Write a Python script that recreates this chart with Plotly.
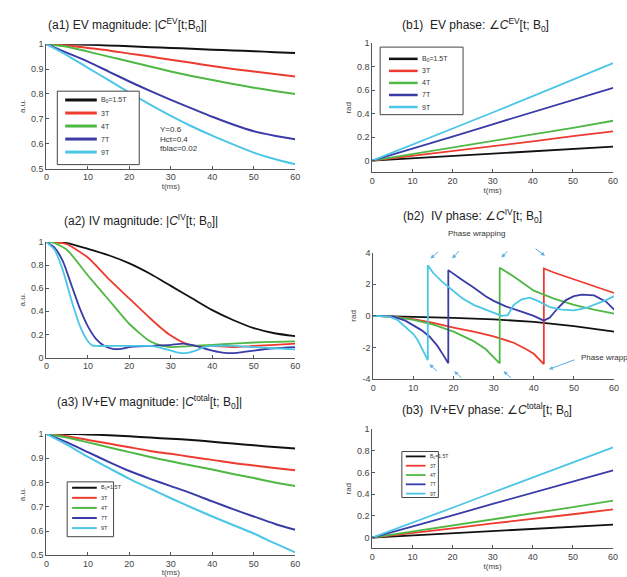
import plotly.graph_objects as go

W, H = 627, 577

names = ["B<sub>0</sub>=1.5T", "3T", "4T", "7T", "9T"]
colors = ["#111111", "#ee3b30", "#4fb844", "#3b3ba8", "#4cc6e6"]

# (a1) EV magnitude
t_a1 = [0, 5, 10, 15, 20, 25, 30, 35, 40, 45, 50, 55, 60]
a1_vals = [
    [1, 1, 0.998, 0.995, 0.992, 0.988, 0.985, 0.982, 0.978, 0.975, 0.972, 0.968, 0.965],
    [1, 0.995, 0.985, 0.975, 0.962, 0.95, 0.937, 0.925, 0.912, 0.9, 0.89, 0.88, 0.87],
    [1, 0.99, 0.97, 0.95, 0.93, 0.91, 0.89, 0.872, 0.856, 0.84, 0.825, 0.812, 0.80],
    [1, 0.965, 0.93, 0.89, 0.85, 0.812, 0.776, 0.742, 0.708, 0.677, 0.65, 0.632, 0.618],
    [1, 0.955, 0.905, 0.855, 0.805, 0.757, 0.712, 0.67, 0.632, 0.597, 0.564, 0.538, 0.517],
]

# (b1) EV phase
t_b1 = [0, 10, 20, 30, 40, 50, 60]
b1_vals = [
    [0, 0.02, 0.04, 0.06, 0.08, 0.10, 0.12],
    [0, 0.04, 0.08, 0.125, 0.165, 0.21, 0.25],
    [0, 0.055, 0.11, 0.17, 0.225, 0.28, 0.34],
    [0, 0.1, 0.205, 0.31, 0.415, 0.52, 0.62],
    [0, 0.135, 0.275, 0.41, 0.55, 0.69, 0.83],
]

# (a2) IV magnitude
t_a2 = [
    [0, 5, 10, 15, 20, 25, 30, 35, 40, 45, 50, 55, 60],
    [0, 3, 5, 10, 15, 20, 25, 28, 30, 33, 36, 40, 45, 50, 55, 60],
    [0, 2, 5, 10, 15, 20, 25, 28, 30, 35, 40, 45, 50, 55, 60],
    [0, 2, 4, 6, 8, 10, 12, 14, 16, 18, 20, 25, 30, 33, 36, 40, 43, 46, 50, 55, 60],
    [0, 2, 4, 6, 8, 10, 11, 12, 15, 20, 25, 28, 30, 32, 34, 36, 38, 40, 45, 50, 55, 60],
]
a2_vals = [
    [1, 0.99, 0.94, 0.885, 0.815, 0.725, 0.62, 0.515, 0.41, 0.325, 0.255, 0.21, 0.185],
    [1, 0.995, 0.98, 0.865, 0.68, 0.51, 0.34, 0.245, 0.19, 0.13, 0.1, 0.1, 0.09, 0.1, 0.11, 0.12],
    [1, 0.99, 0.93, 0.71, 0.5, 0.29, 0.14, 0.1, 0.09, 0.1, 0.11, 0.12, 0.13, 0.135, 0.14],
    [1, 0.95, 0.83, 0.63, 0.43, 0.27, 0.16, 0.1, 0.075, 0.075, 0.09, 0.1, 0.11, 0.12, 0.1, 0.06, 0.04, 0.04, 0.06, 0.08, 0.09],
    [1, 0.93, 0.75, 0.5, 0.28, 0.14, 0.105, 0.1, 0.1, 0.1, 0.1, 0.08, 0.06, 0.04, 0.04, 0.06, 0.09, 0.1, 0.1, 0.09, 0.08, 0.07],
]

# (b2) IV phase (wrapped)
t_b2 = [
    [0, 10, 20, 30, 40, 50, 60],
    [0, 5, 10, 15, 20, 25, 30, 35, 38, 40, 42.5, 42.5, 45, 50, 55, 60],
    [0, 5, 10, 15, 20, 25, 28, 31.5, 31.5, 35, 40, 45, 50, 55, 60],
    [0, 5, 8, 10, 12, 14, 16, 17.5, 18.7, 18.7, 20, 22, 25, 28, 30, 33, 36, 40, 42.5, 44, 46, 48, 50, 52, 55, 58, 60],
    [0, 4, 6, 8, 10, 11, 12, 13, 13.6, 13.6, 15, 17, 18.5, 20, 22, 25, 28, 30, 32, 33.5, 35, 37, 39, 41, 44, 47, 50, 53, 56, 58, 60],
]
b2_vals = [
    [0, -0.05, -0.12, -0.22, -0.38, -0.65, -1.0],
    [0, -0.05, -0.2, -0.45, -0.75, -1.0, -1.3, -1.7, -2.1, -2.4, -3.05, 3.0, 2.75, 2.3, 1.9, 1.45],
    [0, -0.05, -0.25, -0.55, -1.0, -1.6, -2.1, -3.0, 3.05, 2.5, 1.6, 1.1, 0.7, 0.4, 0.15],
    [0, -0.05, -0.3, -0.6, -0.9, -1.3, -1.9, -2.5, -3.0, 2.9, 2.65, 2.3, 1.8, 1.25, 0.95, 0.6, 0.35, 0.0, -0.3, -0.1, 0.5, 1.0, 1.25, 1.35, 1.3, 0.9, 0.4],
    [0, -0.05, -0.25, -0.7, -1.15, -1.5, -2.0, -2.6, -2.8, 3.2, 2.7, 2.2, 1.9, 1.55, 1.15, 0.7, 0.4, 0.2, 0.0, 0.05, 0.7, 1.05, 1.15, 0.95, 0.55, 0.4, 0.35, 0.5, 0.8, 1.0, 1.25],
]

# (a3) IV+EV magnitude
t_a3 = [0, 5, 10, 15, 20, 25, 30, 35, 40, 45, 50, 55, 60]
a3_vals = [
    [1, 1, 0.998, 0.994, 0.99, 0.985, 0.98, 0.975, 0.968, 0.96, 0.953, 0.946, 0.94],
    [1, 0.99, 0.975, 0.96, 0.945, 0.93, 0.918, 0.905, 0.893, 0.88, 0.87, 0.86, 0.85],
    [1, 0.985, 0.965, 0.945, 0.925, 0.905, 0.887, 0.87, 0.853, 0.835, 0.818, 0.8, 0.785],
    [1, 0.965, 0.925, 0.885, 0.847, 0.815, 0.785, 0.755, 0.722, 0.69, 0.66, 0.63, 0.605],
    [1, 0.955, 0.905, 0.86, 0.815, 0.775, 0.735, 0.697, 0.66, 0.625, 0.59, 0.55, 0.512],
]

# (b3) IV+EV phase
t_b3 = [0, 10, 20, 30, 40, 50, 60]
b3_vals = [
    [0, 0.02, 0.04, 0.06, 0.08, 0.10, 0.12],
    [0, 0.04, 0.085, 0.13, 0.17, 0.215, 0.26],
    [0, 0.055, 0.11, 0.17, 0.225, 0.28, 0.34],
    [0, 0.1, 0.205, 0.31, 0.415, 0.52, 0.62],
    [0, 0.135, 0.275, 0.415, 0.555, 0.69, 0.83],
]

x_ticks = [0, 10, 20, 30, 40, 50, 60]

fig = go.Figure()

FONT = "Liberation Sans, Arial, sans-serif"
AX_COLOR = "#555555"


def px_x(p):
    return p / W


def px_y(p):
    return 1 - p / H


panels = {
    # key: (x0, x1, ytop, ybottom, yrange, ytickvals, yticktext)
    "a1": (44, 296, 40, 167, [0.5, 1.0], [0.5, 0.6, 0.7, 0.8, 0.9, 1.0], ["0.5", "0.6", "0.7", "0.8", "0.9", "1"]),
    "b1": (374, 618, 39, 171, [-0.1, 1.0], [0, 0.2, 0.4, 0.6, 0.8, 1.0], ["0", "0.2", "0.4", "0.6", "0.8", "1"]),
    "a2": (44, 296, 242, 360, [0, 1.0], [0, 0.2, 0.4, 0.6, 0.8, 1.0], ["0", "0.2", "0.4", "0.6", "0.8", "1"]),
    "b2": (375, 619, 253, 382, [-4, 4], [-4, -2, 0, 2, 4], ["-4", "-2", "0", "2", "4"]),
    "a3": (44, 296, 438, 562, [0.5, 1.0], [0.5, 0.6, 0.7, 0.8, 0.9, 1.0], ["0.5", "0.6", "0.7", "0.8", "0.9", "1"]),
    "b3": (374, 618, 433, 555, [-0.1, 1.0], [0, 0.2, 0.4, 0.6, 0.8, 1.0], ["0", "0.2", "0.4", "0.6", "0.8", "1"]),
}
order = ["a1", "b1", "a2", "b2", "a3", "b3"]
xtitle = {"a1": True, "b1": True, "a2": False, "b2": False, "a3": True, "b3": True}
ytitle = {"a1": "a.u.", "b1": "rad", "a2": "a.u.", "b2": "rad", "a3": "a.u.", "b3": "rad"}

layout = {}
for i, key in enumerate(order):
    x0, x1, yt, yb, yr, tv, tt = panels[key]
    n = "" if i == 0 else str(i + 1)
    layout["xaxis" + n] = dict(
        domain=[px_x(x0), px_x(x1)], anchor="y" + n, range=[0, 60],
        tickvals=x_ticks, ticks="inside", ticklen=3, tickcolor=AX_COLOR,
        showline=True, linecolor=AX_COLOR, linewidth=1, showgrid=False, zeroline=False,
        tickfont=dict(size=9, color="#444", family=FONT),
        title=dict(text="t(ms)", font=dict(size=8, color="#444", family=FONT), standoff=2) if xtitle[key] else None,
    )
    layout["yaxis" + n] = dict(
        domain=[px_y(yb), px_y(yt)], anchor="x" + n, range=yr,
        tickvals=tv, ticktext=tt, ticks="inside", ticklen=3, tickcolor=AX_COLOR,
        showline=True, linecolor=AX_COLOR, linewidth=1, showgrid=False, zeroline=False,
        tickfont=dict(size=9, color="#444", family=FONT),
        title=dict(text=ytitle[key], font=dict(size=8, color="#444", family=FONT), standoff=4),
    )

data_sets = {
    "a1": ([t_a1] * 5, a1_vals, "spline"),
    "b1": ([t_b1] * 5, b1_vals, "linear"),
    "a2": (t_a2, a2_vals, "spline"),
    "b2": (t_b2, b2_vals, "linear"),
    "a3": ([t_a3] * 5, a3_vals, "spline"),
    "b3": ([t_b3] * 5, b3_vals, "linear"),
}
widths = {"a1": 2, "b1": 1.8, "a2": 1.8, "b2": 1.8, "a3": 2, "b3": 1.8}

for i, key in enumerate(order):
    ts, vs, shape = data_sets[key]
    n = "" if i == 0 else str(i + 1)
    for k in range(5):
        fig.add_trace(go.Scatter(
            x=ts[k], y=vs[k], mode="lines", name=names[k], showlegend=False,
            line=dict(color=colors[k], width=widths[key], shape=shape,
                      smoothing=0.6 if shape == "spline" else None),
            xaxis="x" + n, yaxis="y" + n,
        ))

annotations = []
shapes = []

titles = {
    "a1": ("(a1) EV magnitude: |<i>C</i><sup>EV</sup>[t;B<sub>0</sub>]|", 44, 20),
    "b1": ("(b1)  EV phase: \u2220<i>C</i><sup>EV</sup>[t; B<sub>0</sub>]", 402, 20),
    "a2": ("(a2) IV magnitude: |<i>C</i><sup>IV</sup>[t; B<sub>0</sub>]|", 60, 221),
    "b2": ("(b2)  IV phase: \u2220<i>C</i><sup>IV</sup>[t; B<sub>0</sub>]", 403, 215),
    "a3": ("(a3) IV+EV magnitude: |<i>C</i><sup>total</sup>[t; B<sub>0</sub>]|", 53, 405),
    "b3": ("(b3)  IV+EV phase: \u2220<i>C</i><sup>total</sup>[t; B<sub>0</sub>]", 402, 414),
}
for key, (txt, x, y) in titles.items():
    annotations.append(dict(text=txt, x=px_x(x), y=px_y(y), xref="paper", yref="paper",
                            xanchor="left", yanchor="middle", showarrow=False,
                            font=dict(size=12, color="#222", family=FONT)))

# legends (box, sample lines, labels) in pixel layout
legends = {
    # key: (box x0, x1, y0, y1, line x0, x1, first item y, step, font size, line width)
    "a1": (55, 138, 88, 163, 63, 95, 97, 13.3, 7, 3),
    "b1": (382, 466, 43, 112, 391, 420, 55, 12.3, 7, 2.5),
    "a3": (65, 112, 487, 543, 70, 95, 493, 10.3, 5.5, 2),
    "b3": (404, 441, 456, 503, 408, 428, 461, 9.5, 5, 1.8),
}
for key, (bx0, bx1, by0, by1, lx0, lx1, iy, st, fs, lw) in legends.items():
    shapes.append(dict(type="rect", xref="paper", yref="paper",
                       x0=px_x(bx0), x1=px_x(bx1), y0=px_y(by1), y1=px_y(by0),
                       line=dict(color="#444", width=1), fillcolor="white", layer="above"))
    for k in range(5):
        yy = iy + k * st
        shapes.append(dict(type="line", xref="paper", yref="paper",
                           x0=px_x(lx0), x1=px_x(lx1), y0=px_y(yy), y1=px_y(yy),
                           line=dict(color=colors[k], width=lw), layer="above"))
        annotations.append(dict(text=names[k], x=px_x(lx1 + 2), y=px_y(yy), xref="paper", yref="paper",
                                xanchor="left", yanchor="middle", showarrow=False,
                                font=dict(size=fs, color="#333", family=FONT)))

# parameter text in a1
for j, txt in enumerate(["Y=0.6", "Hct=0.4", "fblac=0.02"]):
    annotations.append(dict(text=txt, x=px_x(157), y=px_y(127 + j * 10), xref="paper", yref="paper",
                            xanchor="left", yanchor="middle", showarrow=False,
                            font=dict(size=8, color="#333", family=FONT)))

# phase wrapping labels in b2
ARW = "#5aaee0"
annotations.append(dict(text="Phase wrapping", x=px_x(480), y=px_y(233), xref="paper", yref="paper",
                        xanchor="center", yanchor="middle", showarrow=False,
                        font=dict(size=8, color="#333", family=FONT)))
annotations.append(dict(text="Phase wrapping", x=px_x(583), y=px_y(360), xref="paper", yref="paper",
                        xanchor="left", yanchor="middle", showarrow=False,
                        font=dict(size=8, color="#333", family=FONT)))
top_arrows = [(433, 259, 442, 251), (455, 259, 463, 250), (505, 258, 512, 250), (549, 256, 538, 248)]
bot_arrows = [(432, 367, 441, 375), (457, 374, 466, 382), (507, 374, 516, 382), (553, 372, 580, 362)]
for (hx, hy, tx, ty) in top_arrows + bot_arrows:
    annotations.append(dict(text="", x=px_x(hx), y=px_y(hy), xref="paper", yref="paper",
                            ax=tx - hx, ay=ty - hy, axref="pixel", ayref="pixel",
                            showarrow=True, arrowhead=2, arrowsize=0.8, arrowwidth=1, arrowcolor=ARW))

fig.update_layout(
    width=W, height=H, margin=dict(l=0, r=0, t=0, b=0),
    paper_bgcolor="white", plot_bgcolor="white",
    showlegend=False, annotations=annotations, shapes=shapes,
    font=dict(family=FONT), **layout,
)

fig.write_html("out.html")
